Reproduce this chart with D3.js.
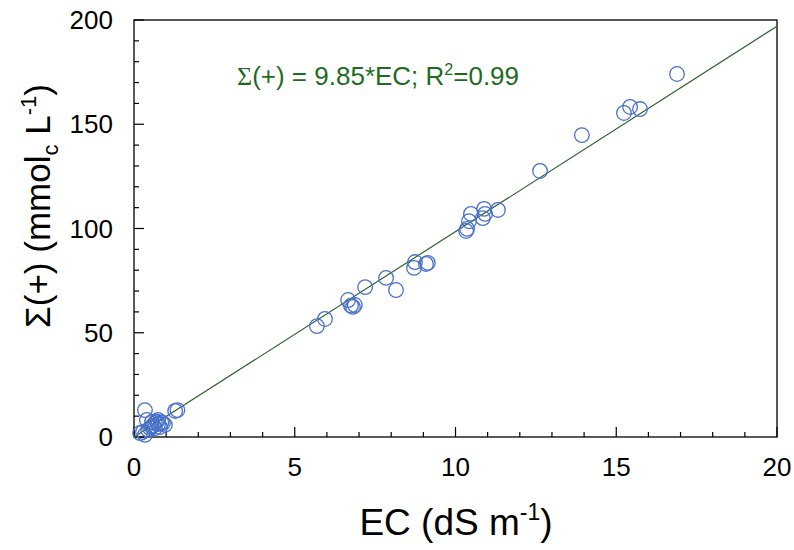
<!DOCTYPE html>
<html><head><meta charset="utf-8">
<script src="https://cdn.jsdelivr.net/npm/d3@7"></script>
<style>body{margin:0;background:#fff}svg{display:block}</style>
</head><body>
<script>
const ecValues = [16.89,15.74,15.43,15.24,13.93,12.63,11.32,10.89,10.92,10.85,10.48,10.42,10.36,10.33,
  9.14,9.08,8.74,8.71,8.15,7.84,7.19,6.87,6.81,6.75,6.66,5.94,5.69,
  1.28,1.35,0.34,0.40,0.56,0.65,0.75,0.81,0.90,0.50,0.28,0.19,0.34,0.96,0.65,0.44,0.75,0.60,0.70,0.55,0.85];
const sumValues = [174.1,157.3,158.3,155.4,144.8,127.6,108.9,109.4,107.0,105.0,107.0,103.5,99.8,98.8,
  83.5,83.0,83.9,81.1,70.5,76.3,71.9,63.3,62.4,63.0,65.7,56.6,53.2,
  12.5,12.9,12.9,8.2,7.2,6.7,8.2,4.8,6.7,4.3,2.4,1.9,1.0,5.8,4.3,3.4,6.2,5.5,7.5,5.0,7.0];
const xTicks = [0,5,10,15,20];
const yTicks = [0,50,100,150,200];
const slope = 9.85;

const W=794,H=550;
const svg=d3.select("body").append("svg").attr("width",W).attr("height",H);
const x=d3.scaleLinear().domain([0,20]).range([134,777]);
const y=d3.scaleLinear().domain([0,200]).range([437,20]);
const sans="Liberation Sans, Arial, sans-serif";

svg.append("rect").attr("x",134).attr("y",20).attr("width",643).attr("height",417)
  .attr("fill","none").attr("stroke","#000").attr("stroke-width",1.3);

svg.append("g").selectAll("line").data(d3.range(0,21,1)).join("line")
  .attr("x1",d=>x(d)).attr("x2",d=>x(d)).attr("y1",437)
  .attr("y2",d=>xTicks.includes(d)?427:432).attr("stroke","#000").attr("stroke-width",1.2);
svg.append("g").selectAll("line").data(d3.range(0,201,10)).join("line")
  .attr("y1",d=>y(d)).attr("y2",d=>y(d)).attr("x1",134)
  .attr("x2",d=>yTicks.includes(d)?144:139).attr("stroke","#000").attr("stroke-width",1.2);

svg.append("g").selectAll("text").data(xTicks).join("text")
  .attr("x",d=>x(d)).attr("y",476).attr("text-anchor","middle")
  .attr("font-family",sans).attr("font-size",26).text(d=>d);
svg.append("g").selectAll("text").data(yTicks).join("text")
  .attr("x",113).attr("y",d=>y(d)+9).attr("text-anchor","end")
  .attr("font-family",sans).attr("font-size",26).text(d=>d);

svg.append("line").attr("x1",x(0)).attr("y1",y(0)).attr("x2",x(20)).attr("y2",y(slope*20))
  .attr("stroke","#2f5f2f").attr("stroke-width",1.2);

svg.append("g").selectAll("circle").data(ecValues.map((e,i)=>[e,sumValues[i]])).join("circle")
  .attr("cx",d=>x(d[0])).attr("cy",d=>y(d[1])).attr("r",7.3)
  .attr("fill","none").attr("stroke","#4a72c8").attr("stroke-width",1.3);

const eq=svg.append("text").attr("x",237).attr("y",85).attr("fill","#1f6b1f")
  .attr("font-family",sans).attr("font-size",26);
eq.append("tspan").attr("font-family","Liberation Serif, Times New Roman, serif").text("Σ");
eq.append("tspan").text("(+) = 9.85*EC; R");
eq.append("tspan").attr("font-size",16).attr("dy",-10).text("2");
eq.append("tspan").attr("dy",10).text("=0.99");

const xt=svg.append("text").attr("x",456).attr("y",535).attr("text-anchor","middle")
  .attr("font-family",sans).attr("font-size",37);
xt.append("tspan").text("EC (dS m");
xt.append("tspan").attr("font-size",23).attr("dy",-15).text("-1");
xt.append("tspan").attr("dy",15).text(")");

const yt=svg.append("text").attr("transform","translate(50,206) rotate(-90)").attr("text-anchor","middle")
  .attr("font-family",sans).attr("font-size",35);
yt.append("tspan").text("Σ(+) (mmol");
yt.append("tspan").attr("font-size",22).attr("dy",8).text("c");
yt.append("tspan").attr("dy",-8).text(" L");
yt.append("tspan").attr("font-size",22).attr("dy",-14).text("-1");
yt.append("tspan").attr("dy",14).text(")");
</script>
</body></html>
